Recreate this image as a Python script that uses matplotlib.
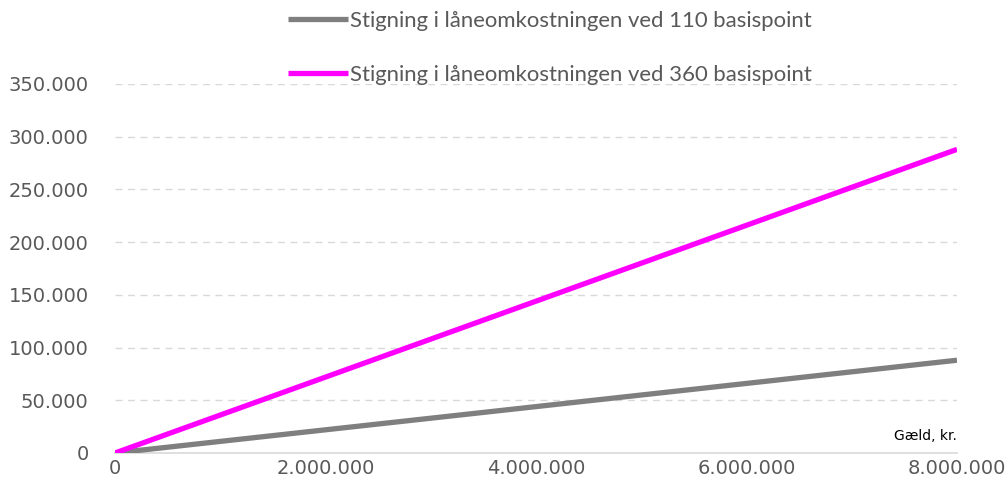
import matplotlib
matplotlib.use("Agg")
import matplotlib.pyplot as plt
from matplotlib.ticker import FuncFormatter

# Gæld (kr.) og stigning i låneomkostningen (kr.)
debt = [0, 8000000]
cost_110bp = [0, 88000]
cost_360bp = [0, 288000]
labels = ["Stigning i låneomkostningen ved 110 basispoint",
          "Stigning i låneomkostningen ved 360 basispoint"]
x_ticks = [0, 2000000, 4000000, 6000000, 8000000]
y_ticks = [0, 50000, 100000, 150000, 200000, 250000, 300000, 350000]

def dk(v, pos=None):
    return f"{int(round(v)):,}".replace(",", ".")

fig = plt.figure(figsize=(10.05, 4.95), dpi=100)
ax = fig.add_axes([115/1005, 1 - 453/495, (957 - 115)/1005, (453 - 84)/495])

l1, = ax.plot(debt, cost_110bp, color="#7f7f7f", lw=3.8, solid_capstyle="butt", zorder=3)
l2, = ax.plot(debt, cost_360bp, color="#ff00ff", lw=3.8, solid_capstyle="butt", zorder=4)

ax.set_xlim(0, 8000000)
ax.set_ylim(0, 350000)
ax.set_xticks(x_ticks)
ax.set_yticks(y_ticks)
ax.xaxis.set_major_formatter(FuncFormatter(dk))
ax.yaxis.set_major_formatter(FuncFormatter(dk))

for s in ["top", "right", "left"]:
    ax.spines[s].set_visible(False)
ax.spines["bottom"].set_color("#d9d9d9")
ax.spines["bottom"].set_linewidth(1.2)
ax.spines["bottom"].set_zorder(2)

ax.yaxis.grid(True, color="#d9d9d9", linestyle=(0, (5, 4)), linewidth=1.0)
ax.set_axisbelow(True)
ax.tick_params(axis="both", length=0, labelsize=14, labelcolor="#595959")
ax.tick_params(axis="y", pad=19)
ax.tick_params(axis="x", pad=4)

ax.text(1.0, 0.045, "Gæld, kr.", transform=ax.transAxes, ha="right", va="center",
        fontsize=10, color="#000000")

fig.legend([l1, l2], labels, loc="upper left", bbox_to_anchor=(288/1005, 1 - 11/495),
           frameon=False, handlelength=2.7, handletextpad=0.1, labelspacing=1.55,
           prop={"family": "Lato", "size": 15.9}, labelcolor="#595959", borderaxespad=0,
           borderpad=0)

fig.savefig("out.png", dpi=100)
